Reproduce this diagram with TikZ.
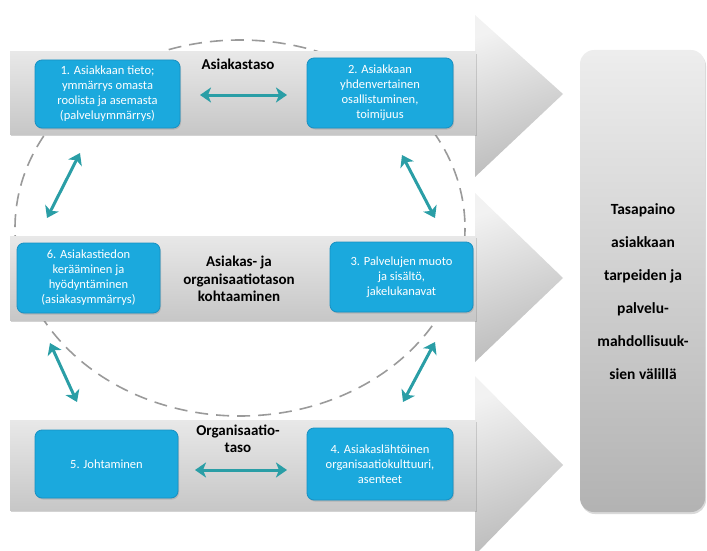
\documentclass[tikz,border=0pt]{standalone}
\usepackage{fontspec}
\setmainfont{Carlito}
\usetikzlibrary{arrows.meta,shadows}

\definecolor{boxblue}{HTML}{1BA9DD}
\definecolor{boxedge}{HTML}{1890C2}
\definecolor{linkteal}{HTML}{2A9EA6}
\definecolor{ringgray}{HTML}{9A9A9A}

\begin{document}
\begin{tikzpicture}[x=1pt,y=-1pt,
  bodyshade/.style={top color=black!9, bottom color=black!22,
    drop shadow={opacity=0.35, shadow xshift=1pt, shadow yshift=-2pt}},
  headshade/.style={top color=black!5, bottom color=black!27, shading angle=20},
  bluebox/.style={rounded corners=7pt, fill=boxblue, draw=boxedge, line width=0.8pt,
    text=white, align=center, inner sep=2pt,
    font=\fontsize{12.5}{15}\selectfont,
    drop shadow={opacity=0.3, shadow xshift=1pt, shadow yshift=-1.5pt}},
  levellabel/.style={align=center, font=\fontsize{15}{17.5}\selectfont\bfseries},
  linkarrow/.style={draw=linkteal, line width=3pt,
    {Stealth[width=15pt,length=11pt,inset=3pt]}-{Stealth[width=15pt,length=11pt,inset=3pt]}},
  ring/.style={draw=ringgray, line width=1.6pt, dash pattern=on 13pt off 8pt}
]
\useasboundingbox (0,0) rectangle (707,551);

% dashed ring behind the three bands
\draw[ring] (240,228) ellipse [x radius=225, y radius=188];

% arrow heads
\shade[headshade] (475,15) -- (563,94) -- (475,177) -- cycle;
\shade[headshade] (475,193) -- (563,278) -- (475,362) -- cycle;
\shade[headshade] (475,376) -- (563,465) -- (475,555) -- cycle;

% arrow bodies
\shade[bodyshade] (10,52) rectangle (476,134);
\shade[bodyshade] (10,236) rectangle (476,320);
\shade[bodyshade] (10,420) rectangle (476,510);

% balance box on the right
\shade[top color=black!7, bottom color=black!30, rounded corners=14pt,
  drop shadow={opacity=0.3, shadow xshift=1pt, shadow yshift=-2pt}]
  (580,50) rectangle (705,512);
\node[align=center, font=\fontsize{15.5}{33}\selectfont\bfseries] (balance) at (643,292)
  {Tasapaino\\asiakkaan\\tarpeiden ja\\palvelu-\\mahdollisuuk-\\sien välillä};

% level labels
\node[levellabel] (lvl1) at (238,64) {Asiakastaso};
\node[levellabel] (lvl2) at (239,279) {Asiakas- ja\\organisaatiotason\\kohtaaminen};
\node[levellabel] (lvl3) at (238,439) {Organisaatio-\\taso};

% blue boxes
\node[bluebox, minimum width=145pt, minimum height=68pt] (b1) at (107.5,94)
  {1. Asiakkaan tieto;\\ymmärrys omasta\\roolista ja asemasta\\(palveluymmärrys)};
\node[bluebox, minimum width=146pt, minimum height=70pt] (b2) at (380,93)
  {2. Asiakkaan\\yhdenvertainen\\osallistuminen,\\toimijuus};
\node[bluebox, minimum width=143pt, minimum height=70pt] (b6) at (88.5,278)
  {6. Asiakastiedon\\kerääminen ja\\hyödyntäminen\\(asiakasymmärrys)};
\node[bluebox, minimum width=143pt, minimum height=70pt] (b3) at (401.5,277)
  {3. Palvelujen muoto\\ja sisältö,\\jakelukanavat};
\node[bluebox, minimum width=143pt, minimum height=68pt] (b5) at (106.5,464)
  {5. Johtaminen};
\node[bluebox, minimum width=146pt, minimum height=72pt] (b4) at (380,464)
  {4. Asiakaslähtöinen\\organisaatiokulttuuri,\\asenteet};

% arrow end points
\coordinate (h1a) at (200,95);  \coordinate (h1b) at (287,95);
\coordinate (h2a) at (195,470); \coordinate (h2b) at (287,470);
\coordinate (d1a) at (80,153);  \coordinate (d1b) at (47,218);
\coordinate (d2a) at (402,155); \coordinate (d2b) at (435,218);
\coordinate (d3a) at (50,343);  \coordinate (d3b) at (77,402);
\coordinate (d4a) at (435,342); \coordinate (d4b) at (403,402);

% two-way links
\draw[linkarrow] (h1a) -- (h1b);
\draw[linkarrow] (h2a) -- (h2b);
\draw[linkarrow] (d1a) -- (d1b);
\draw[linkarrow] (d2a) -- (d2b);
\draw[linkarrow] (d3a) -- (d3b);
\draw[linkarrow] (d4a) -- (d4b);
\end{tikzpicture}
\end{document}
